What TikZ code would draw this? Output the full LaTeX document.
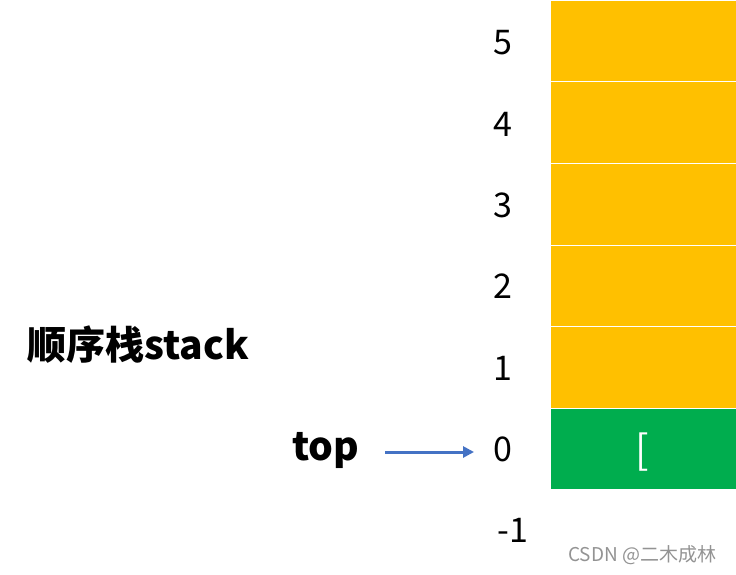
\documentclass[tikz,border=0pt]{standalone}
\usepackage{fontspec}
\setmainfont{Noto Sans CJK SC}
\newfontfamily\cjk{Noto Sans CJK SC}
\usetikzlibrary{arrows.meta}
\definecolor{cellyellow}{HTML}{FFC000}
\definecolor{cellgreen}{HTML}{00AD4E}
\definecolor{arrowblue}{HTML}{4472C4}
\tikzset{
  cell/.style={draw=white, line width=1pt, minimum width=186pt, minimum height=81.5pt, inner sep=0pt, anchor=north west},
  idx/.style={font=\fontsize{34}{34}\selectfont, text=black, inner sep=0pt},
  bigbold/.style={font=\fontsize{39}{39}\selectfont\bfseries, inner sep=0pt}
}
\begin{document}
\begin{tikzpicture}[x=1pt,y=-1pt]
\useasboundingbox (0,0) rectangle (736,575);
\node[cell, fill=cellyellow] (c5) at (550,0) {};
\node[cell, fill=cellyellow] (c4) at (550,81.5) {};
\node[cell, fill=cellyellow] (c3) at (550,163) {};
\node[cell, fill=cellyellow] (c2) at (550,244.5) {};
\node[cell, fill=cellyellow] (c1) at (550,326) {};
\node[cell, fill=cellgreen] (c0) at (550,407.5) {};
\node[text=white, font=\fontsize{40}{40}\selectfont, inner sep=0pt] (br) at (642,452) {[};
\node[idx] (i5) at (503,43) {5};
\node[idx] (i4) at (503,124) {4};
\node[idx] (i3) at (503,205) {3};
\node[idx] (i2) at (503,286) {2};
\node[idx] (i1) at (503,368) {1};
\node[idx] (i0) at (503,449) {0};
\node[idx] (im1) at (513,530) {-1};
\node[bigbold, anchor=west] (title) at (27,345) {顺序栈stack};
\node[bigbold, anchor=west] (top) at (292,450) {top};
\coordinate (as) at (385,452);
\coordinate (ae) at (474,452);
\draw[arrowblue, line width=3pt, -{Triangle[length=11pt,width=11pt]}] (as) -- (ae);
\node[text=gray!85, font=\fontsize{19}{19}\selectfont, anchor=west, inner sep=0pt] (wm) at (568,555) {CSDN @二木成林};
\end{tikzpicture}
\end{document}
